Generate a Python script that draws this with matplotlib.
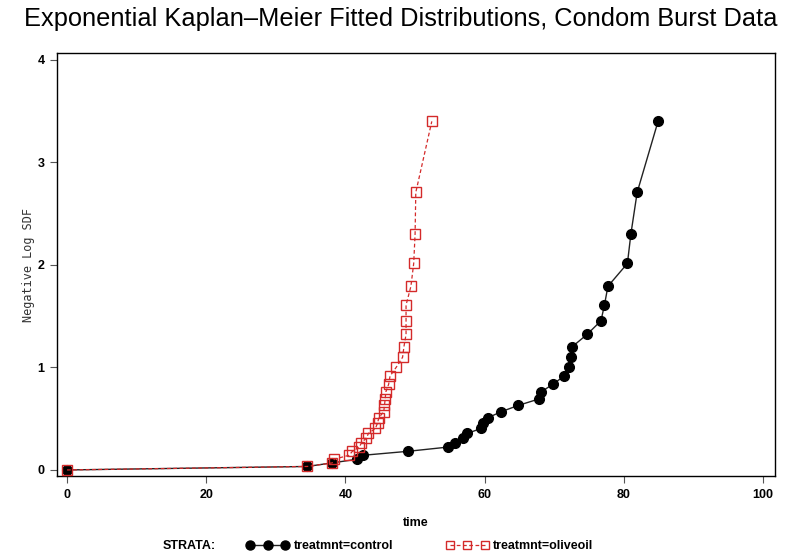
import matplotlib
matplotlib.use("Agg")
import matplotlib.pyplot as plt
from matplotlib.lines import Line2D

# Kaplan-Meier negative log survival
control_time = [0, 34.5, 38.1, 41.7, 42.5, 49.0, 54.7, 55.7, 56.9, 57.5, 59.5,
                59.8, 60.5, 62.4, 64.8, 67.8, 68.1, 69.8, 71.4, 72.1, 72.4,
                72.6, 74.7, 76.7, 77.2, 77.7, 80.5, 81.0, 81.9, 84.9]
control_nlsdf = [0, 0.034, 0.069, 0.105, 0.143, 0.182, 0.223, 0.266, 0.310,
                 0.357, 0.405, 0.457, 0.511, 0.569, 0.629, 0.693, 0.762, 0.836,
                 0.916, 1.003, 1.099, 1.204, 1.322, 1.455, 1.609, 1.792, 2.015,
                 2.303, 2.708, 3.401]

olive_time = [0, 34.5, 38.1, 38.4, 40.5, 41.0, 42.0, 42.3, 43.0, 43.3, 44.3,
              44.6, 44.8, 45.5, 45.6, 45.7, 45.8, 46.2, 46.4, 47.3, 48.2,
              48.4, 48.7, 48.7, 48.7, 49.4, 49.8, 50.0, 50.1, 52.4]
olive_nlsdf = [0, 0.034, 0.069, 0.105, 0.143, 0.182, 0.223, 0.266, 0.310,
               0.357, 0.405, 0.457, 0.511, 0.569, 0.629, 0.693, 0.762, 0.836,
               0.916, 1.003, 1.099, 1.204, 1.322, 1.455, 1.609, 1.792, 2.015,
               2.303, 2.708, 3.401]

x_ticks = [0, 20, 40, 60, 80, 100]
y_ticks = [0, 1, 2, 3, 4]

sans = ["Liberation Sans", "DejaVu Sans"]
mono = ["DejaVu Sans Mono", "Liberation Mono"]
red = "#d42a2a"

fig = plt.figure(figsize=(7.85, 5.59), dpi=100)
ax = fig.add_axes([57 / 785, 1 - 476 / 559, (775 - 57) / 785, (476 - 53) / 559])

ax.plot(control_time, control_nlsdf, color="#222222", lw=1.0, marker="o",
        markersize=7, markerfacecolor="black", markeredgecolor="black", zorder=2)
ax.plot(olive_time, olive_nlsdf, color=red, lw=0.9, ls=(0, (3, 2)), marker="s",
        markersize=6.5, markerfacecolor="none", markeredgecolor=red,
        markeredgewidth=1.0, zorder=3)

ax.set_xlim(-1.44, 101.7)
ax.set_ylim(-0.059, 4.068)
ax.set_xticks(x_ticks)
ax.set_yticks(y_ticks)
ax.tick_params(direction="out", length=5, width=0.8, color="#555555", pad=4)
for lab in ax.get_xticklabels() + ax.get_yticklabels():
    lab.set_family(sans)
    lab.set_fontweight("bold")
    lab.set_fontsize(9)
for s in ax.spines.values():
    s.set_linewidth(1.0)

ax.set_xlabel("time", family=sans, fontweight="bold", fontsize=9, labelpad=12)
ax.set_ylabel("Negative Log SDF", family=mono, fontsize=8.5, color="#333333",
              labelpad=2)

fig.text(0.51, 0.966, "Exponential Kaplan\u2013Meier Fitted Distributions, Condom Burst Data",
         ha="center", va="center", family=sans, fontsize=18.3)

# legend row
fig.text(163 / 785, 1 - 546 / 559, "STRATA:", family=sans, fontweight="bold",
         fontsize=9, va="center")
h1 = Line2D([], [], color="#222222", lw=1.0, marker="o", markersize=6.5,
            markerfacecolor="black", markeredgecolor="black")
h2 = Line2D([], [], color=red, lw=0.9, ls=(0, (3, 2)), marker="s", markersize=6,
            markerfacecolor="none", markeredgecolor=red)
leg = fig.legend([h1, h2], ["treatmnt=control", "treatmnt=oliveoil"], numpoints=3,
                 ncol=2, frameon=False, loc="center left",
                 bbox_to_anchor=(240 / 785, 1 - 546 / 559), handlelength=3.4,
                 handletextpad=0.4, columnspacing=4.2, borderpad=0,
                 prop={"family": sans, "weight": "bold", "size": 9})

fig.savefig("out.png", dpi=100)
